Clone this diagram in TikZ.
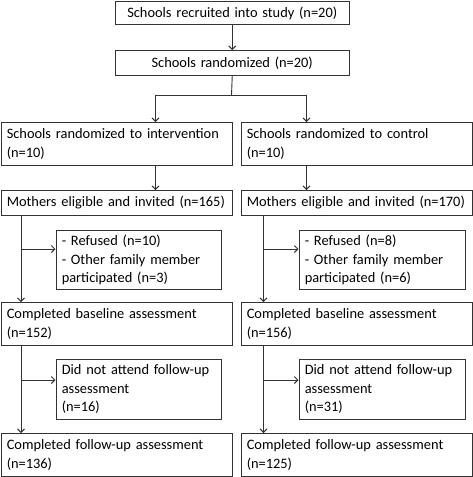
\documentclass[tikz,border=0pt]{standalone}
\usepackage{fontspec}
\setmainfont{Carlito}
\usetikzlibrary{arrows.meta}
\begin{document}
\begin{tikzpicture}[x=1pt,y=-1pt,
  box/.style={draw=black!80, line width=0.9pt, anchor=north west, inner xsep=5.8pt, inner ysep=0pt,
    align=left, font=\fontsize{14.4}{18.5}\selectfont, text=black},
  ln/.style={draw=black!80, line width=0.9pt},
  arr/.style={ln, -{Straight Barb[length=3.5pt,width=7pt]}}]
\useasboundingbox (0,0) rectangle (473,477);
% top
\node[box, align=center, text width=223pt, minimum height=23pt] (r1) at (114.5,1) {Schools recruited into study (n=20)};
\node[box, align=center, text width=223pt, minimum height=25pt] (r2) at (114.5,50) {Schools randomized (n=20)};
% left column
\node[box, text width=219.5pt, minimum height=43pt] (l1) at (0.5,122) {Schools randomized to intervention\\(n=10)};
\node[box, text width=219.5pt, minimum height=25pt] (l2) at (0.5,190) {\mbox{Mothers eligible and invited (n=165)}};
\node[box, text width=153.5pt, minimum height=59pt] (s1) at (55.5,230) {- Refused (n=10)\\- Other family member\\participated (n=3)};
\node[box, text width=219.5pt, minimum height=43pt] (l3) at (0.5,302) {Completed baseline assessment\\(n=152)};
\node[box, text width=153.5pt, minimum height=60pt] (s2) at (55.5,359) {Did not attend follow-up\\assessment\\(n=16)};
\node[box, text width=219.5pt, minimum height=43pt] (l4) at (0.5,433) {Completed follow-up assessment\\(n=136)};
% right column
\node[box, text width=219.5pt, minimum height=43pt] (m1) at (240.5,122) {Schools randomized to control\\(n=10)};
\node[box, text width=219.5pt, minimum height=25pt] (m2) at (240.5,190) {\mbox{Mothers eligible and invited (n=170)}};
\node[box, text width=154.5pt, minimum height=59pt] (t1) at (298.5,230) {- Refused (n=8)\\- Other family member\\participated (n=6)};
\node[box, text width=219.5pt, minimum height=43pt] (m3) at (240.5,302) {Completed baseline assessment\\(n=156)};
\node[box, text width=154.5pt, minimum height=60pt] (t2) at (298.5,359) {Did not attend follow-up\\assessment\\(n=31)};
\node[box, text width=219.5pt, minimum height=43pt] (m4) at (240.5,433) {Completed follow-up assessment\\(n=125)};
% connectors
\coordinate (split) at (231.5,95);
\coordinate (la) at (155.5,95);
\coordinate (ra) at (306.5,95);
\coordinate (lb) at (21,0);
\coordinate (rb) at (263.5,0);
\draw[arr] (r1.south) -- (r2.north);
\draw[ln] (r2.south) -- (split);
\draw[ln] (la) -- (ra);
\draw[arr] (la) -- (la |- l1.north);
\draw[arr] (ra) -- (ra |- m1.north);
\draw[arr] (l1.south -| la) -- (l2.north -| la);
\draw[arr] (m1.south -| ra) -- (m2.north -| ra);
% left branches
\draw[arr] (l2.south -| lb) -- (l3.north -| lb);
\coordinate (lc) at (21,249);
\draw[arr] (lc) -- (lc -| s1.west);
\draw[arr] (l3.south -| lb) -- (l4.north -| lb);
\coordinate (ld) at (21,380);
\draw[arr] (ld) -- (ld -| s2.west);
% right branches
\draw[arr] (m2.south -| rb) -- (m3.north -| rb);
\coordinate (rc) at (263.5,249);
\draw[arr] (rc) -- (rc -| t1.west);
\draw[arr] (m3.south -| rb) -- (m4.north -| rb);
\coordinate (rd) at (263.5,380);
\draw[arr] (rd) -- (rd -| t2.west);
\end{tikzpicture}
\end{document}
